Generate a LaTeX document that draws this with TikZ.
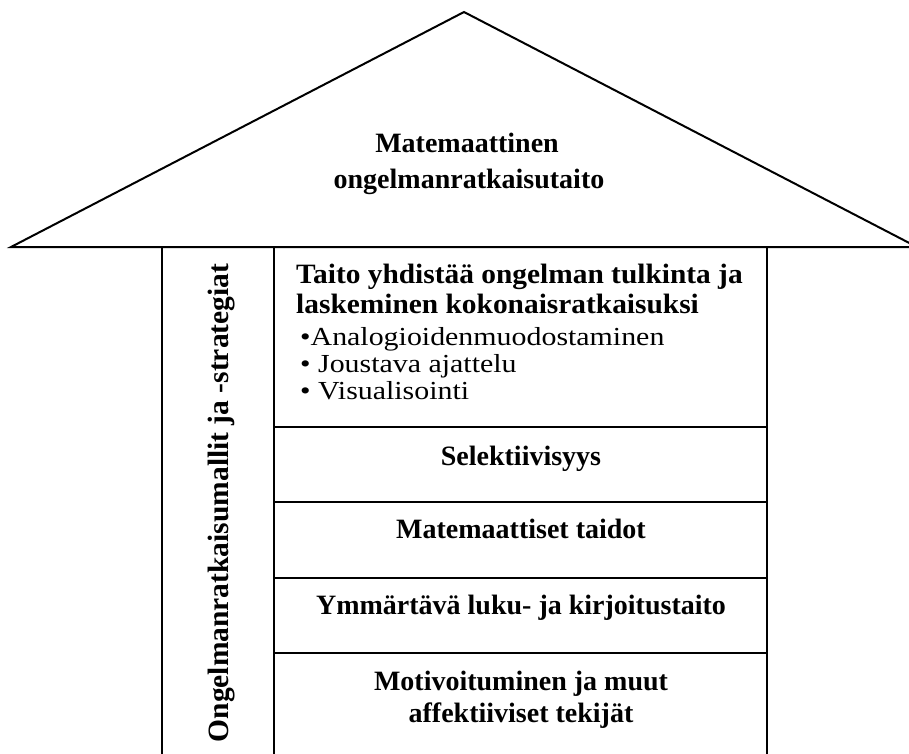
\documentclass[tikz,border=0pt]{standalone}
\usepackage{fontspec}
\setmainfont{Liberation Serif}
\newfontfamily\listfont{Liberation Serif}[FakeStretch=1.15]
\newfontfamily\headfont{Liberation Serif}[FakeStretch=1.05]
\begin{document}
\begin{tikzpicture}[x=1pt,y=-1pt,
  frame/.style={line width=2pt,line join=miter},
  boldtxt/.style={font=\fontsize{28}{30}\selectfont\bfseries,inner sep=0pt},
  headtxt/.style={font=\headfont\fontsize{28}{30}\selectfont\bfseries,inner sep=0pt,anchor=base west},
  listtxt/.style={font=\listfont\fontsize{26}{30}\selectfont,inner sep=0pt,anchor=base west},
  linetxt/.style={boldtxt,anchor=base}]
\useasboundingbox (0,0) rectangle (909,753);

% roof
\draw[frame] (11,247) -- (464,12) -- (917,247) -- cycle;
\node[linetxt] (roofa) at (467,152) {Matemaattinen};
\node[linetxt] (roofb) at (469,188) {ongelmanratkaisutaito};

% walls and floors
\draw[frame] (162,247) -- (162,760);
\draw[frame] (274,247) -- (274,760);
\draw[frame] (767,247) -- (767,760);
\foreach \yy in {427,502,578,653}
  \draw[frame] (274,\yy) -- (767,\yy);

% side column
\node[boldtxt,font=\fontsize{29.5}{30}\selectfont\bfseries,rotate=90,anchor=base] (side) at (228,503)
  {Ongelmanratkaisumallit ja -strategiat};

% top storey
\node[headtxt] (t1) at (296,283) {Taito yhdistää ongelman tulkinta ja};
\node[headtxt] (t2) at (296,313) {laskeminen kokonaisratkaisuksi};
\node[listtxt] (b1) at (300,345) {\textbullet Analogioidenmuodostaminen};
\node[listtxt] (b2) at (300,372) {\textbullet{} Joustava ajattelu};
\node[listtxt] (b3) at (300,399) {\textbullet{} Visualisointi};

% lower storeys
\node[linetxt] (sel) at (521,465) {Selektiivisyys};
\node[linetxt] (mat) at (521,538) {Matemaattiset taidot};
\node[linetxt] (ymm) at (521,614) {Ymmärtävä luku- ja kirjoitustaito};
\node[linetxt] (mota) at (521,690) {Motivoituminen ja muut};
\node[linetxt] (motb) at (521,722) {affektiiviset tekijät};
\end{tikzpicture}
\end{document}
